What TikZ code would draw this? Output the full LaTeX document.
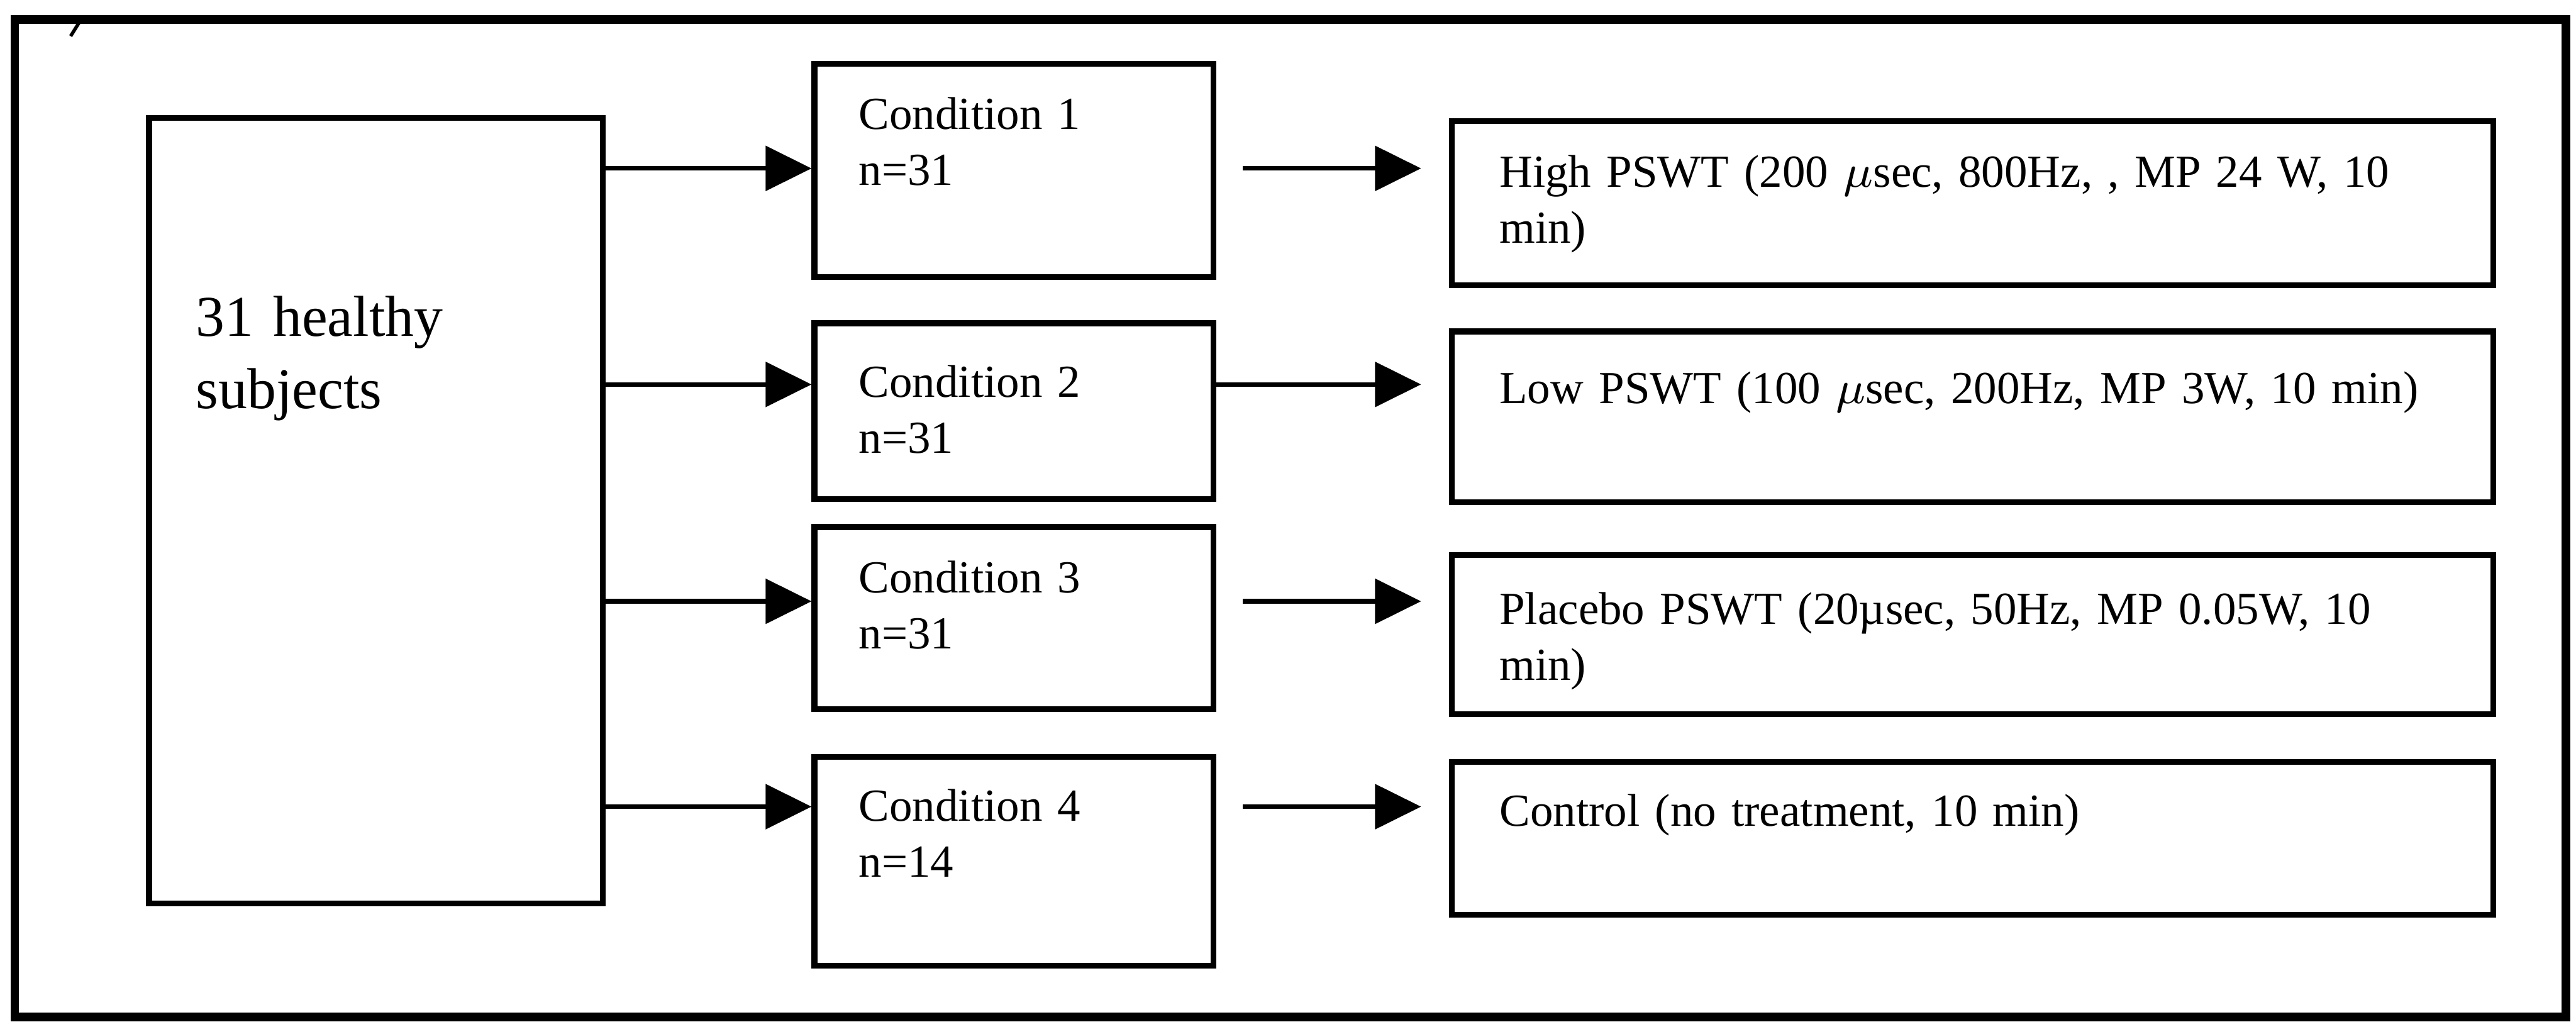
\documentclass[tikz,border=0pt]{standalone}
\usepackage{fontspec}
\setmainfont{Liberation Serif}
\usetikzlibrary{arrows.meta}

\tikzset{
    frame/.style={line width=1.5pt},
    box/.style={draw, line width=1pt, anchor=north west, align=left,
        inner ysep=0pt, font=\fontsize{7.95}{9.7}\selectfont},
    condbox/.style={box, inner xsep=2.7mm, text width=18.9mm},
    treatbox/.style={box, inner xsep=2.9mm, text width=57.6mm},
    arr/.style={line width=0.8pt, -{Triangle[length=2.8mm,width=2.7mm]}},
}

\begin{document}
\begin{tikzpicture}[x=0.1mm,y=0.1mm]

        \useasboundingbox (0,0) rectangle (1568,622);

        % outer frame and the stray mark on its top edge
        \draw[frame] (9,610) rectangle (1562,3);
        \draw[line width=0.6pt] (48,608) -- (43,600);

        % subjects
        \node[box, inner xsep=2.86mm, text width=21.9mm, text height=13.3mm, text depth=34.5mm,
            font=\fontsize{10}{12.5}\selectfont] (subj) at (89,552) {31 healthy\\subjects};

        % conditions
        \node[condbox, text height=4.0mm, text depth=9.0mm] (c1) at (494,585) {Condition 1\\n=31};
        \node[condbox, text height=4.5mm, text depth=6.2mm] (c2) at (494,427) {Condition 2\\n=31};
        \node[condbox, text height=4.0mm, text depth=7.1mm] (c3) at (494,303) {Condition 3\\n=31};
        \node[condbox, text height=3.9mm, text depth=8.8mm] (c4) at (494,163) {Condition 4\\n=14};

        % treatments
        \node[treatbox, text height=4.0mm, text depth=6.0mm] (t1) at (882,550)
            {High PSWT (200 $\mu$sec, 800Hz, , MP 24 W, 10\\min)};
        \node[treatbox, text height=4.4mm, text depth=6.0mm] (t2) at (882,422)
            {Low PSWT (100 $\mu$sec, 200Hz, MP 3W, 10 min)};
        \node[treatbox, text height=4.2mm, text depth=5.5mm] (t3) at (882,286)
            {Placebo PSWT (20µsec, 50Hz, MP 0.05W, 10\\min)};
        \node[treatbox, text height=3.9mm, text depth=5.4mm] (t4) at (882,160)
            {Control (no treatment, 10 min)};

        % arrow levels
        \coordinate (r1) at (0,519.5);
        \coordinate (r2) at (0,388);
        \coordinate (r3) at (0,256);
        \coordinate (r4) at (0,131);

        \foreach \i in {1,...,4}
            \draw[arr] (subj.east |- r\i) -- (c\i.west |- r\i);

        \draw[arr, shorten <=1.6mm, shorten >=1.7mm] (c1.east |- r1) -- (t1.west |- r1);
        \draw[arr, shorten >=1.7mm] (c2.east |- r2) -- (t2.west |- r2);
        \draw[arr, shorten <=1.6mm, shorten >=1.7mm] (c3.east |- r3) -- (t3.west |- r3);
        \draw[arr, shorten <=1.6mm, shorten >=1.7mm] (c4.east |- r4) -- (t4.west |- r4);

\end{tikzpicture}
\end{document}
